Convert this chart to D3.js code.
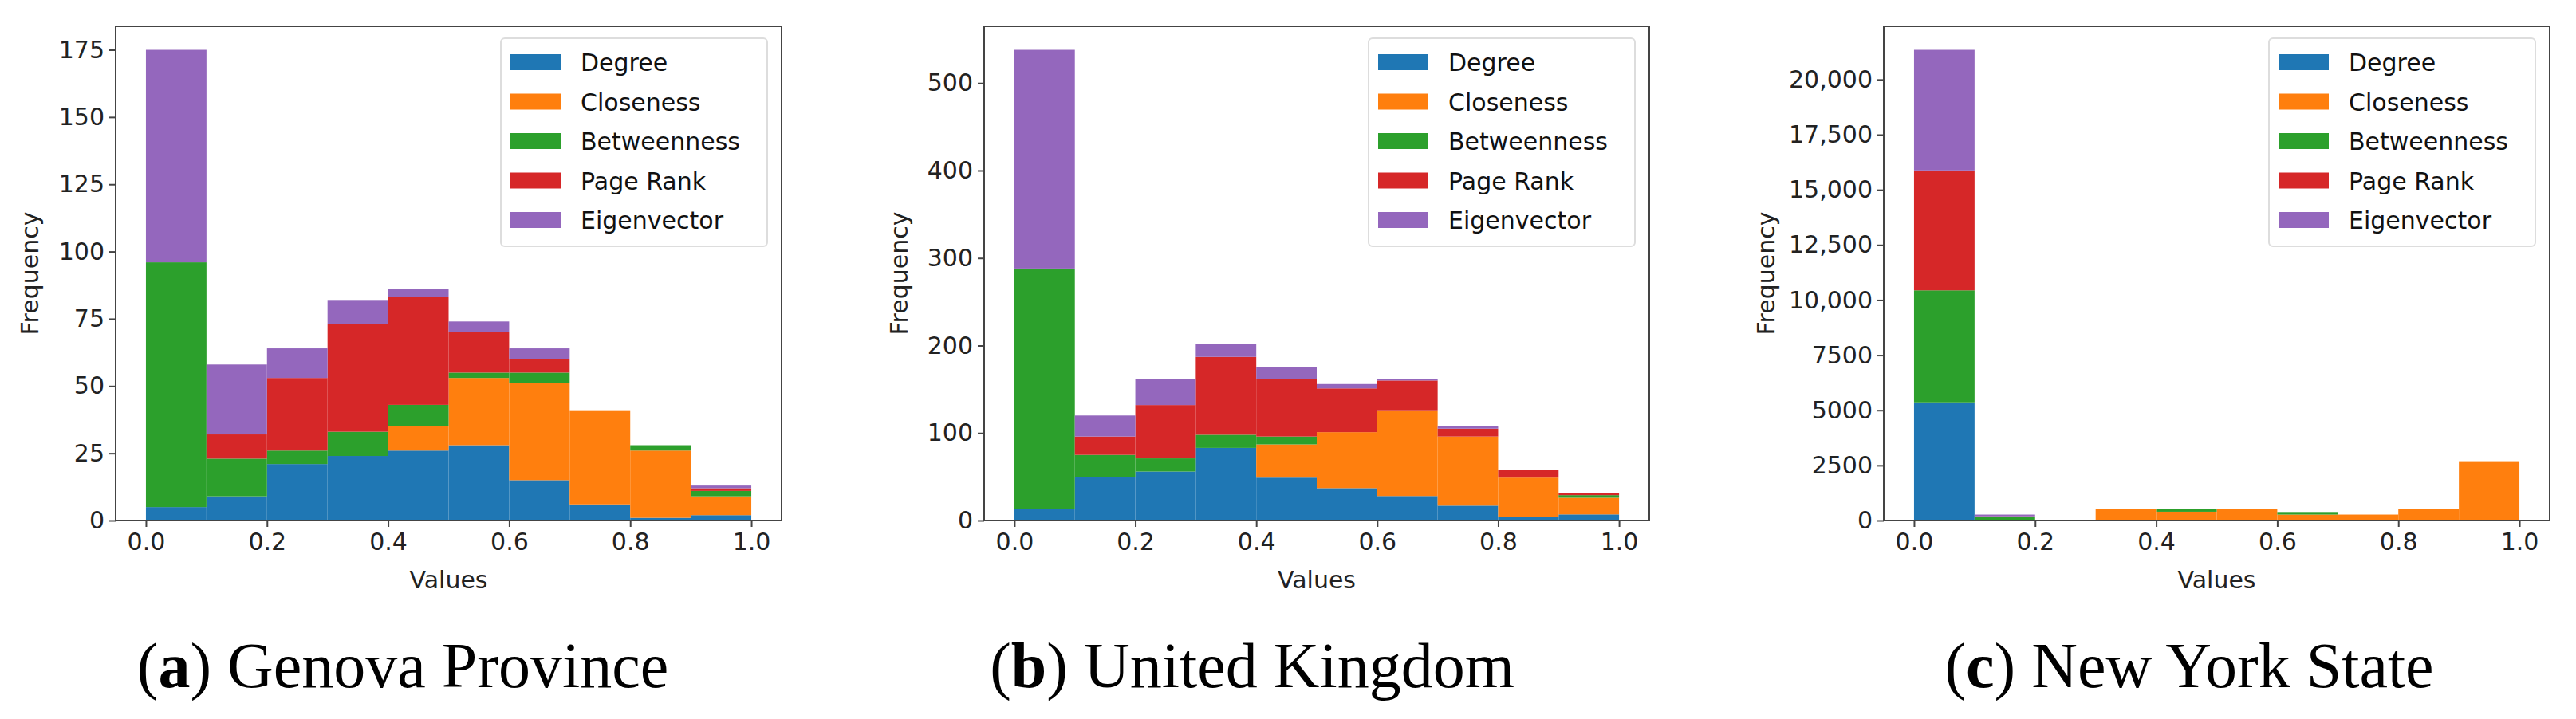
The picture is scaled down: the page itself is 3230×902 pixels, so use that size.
<!DOCTYPE html>
<html><head><meta charset="utf-8">
<script src="https://cdn.jsdelivr.net/npm/d3@7"></script>
<style>body{margin:0;background:#fff}</style></head>
<body><svg id="c" width="3230" height="902"></svg>
<script>
const bins = [0,0.1,0.2,0.3,0.4,0.5,0.6,0.7,0.8,0.9];
const seriesNames = ["Degree","Closeness","Betweenness","Page Rank","Eigenvector"];
const colors = ["#1f77b4","#ff7f0e","#2ca02c","#d62728","#9467bd"];
// Genova Province
const genDegree = [5,9,21,24,26,28,15,6,1,2];
const genCloseness = [0,0,0,0,9,25,36,35,25,7];
const genBetweenness = [91,14,5,9,8,2,4,0,2,2];
const genPageRank = [0,9,27,40,40,15,5,0,0,1];
const genEigen = [79,26,11,9,3,4,4,0,0,1];
const genTicks = [0,25,50,75,100,125,150,175];
// United Kingdom
const ukDegree = [13,50,56,83,49,37,28,17,4,7];
const ukCloseness = [0,0,0,0,38,64,98,79,45,19];
const ukBetweenness = [275,25,15,15,9,0,0,0,0,3];
const ukPageRank = [0,21,61,89,66,50,34,9,9,2];
const ukEigen = [250,24,30,15,13,5,2,3,0,0];
const ukTicks = [0,100,200,300,400,500];
// New York State
const nyDegree = [5360,30,0,0,0,0,0,0,0,0];
const nyCloseness = [0,0,0,515,400,515,270,270,515,2690];
const nyBetweenness = [5080,130,0,0,115,0,116,0,0,0];
const nyPageRank = [5440,30,0,0,0,0,0,0,0,0];
const nyEigen = [5470,80,0,0,0,0,0,0,0,0];
const nyTicks = [0,2500,5000,7500,10000,12500,15000,17500,20000];
const nyTickLabels = ["0","2500","5000","7500","10,000","12,500","15,000","17,500","20,000"];
const xTicks = [0,0.2,0.4,0.6,0.8,1.0];
const captions = [["a","Genova Province"],["b","United Kingdom"],["c","New York State"]];

const panels = [
 {left:145,right:980,ylab:38,cap:505,series:[genDegree,genCloseness,genBetweenness,genPageRank,genEigen],ticks:genTicks,labels:null},
 {left:1234,right:2068,ylab:1128,cap:1570,series:[ukDegree,ukCloseness,ukBetweenness,ukPageRank,ukEigen],ticks:ukTicks,labels:null},
 {left:2362,right:3197,ylab:2215,cap:2745,series:[nyDegree,nyCloseness,nyBetweenness,nyPageRank,nyEigen],ticks:nyTicks,labels:nyTickLabels}
];
const axTop=33,axBottom=653;
const svg=d3.select("#c");
const tf="'DejaVu Sans', sans-serif";
panels.forEach((p,pi)=>{
  const x=d3.scaleLinear().domain([-0.05,1.05]).range([p.left,p.right]);
  const totals=bins.map((b,i)=>d3.sum(p.series,s=>s[i]));
  const ymax=d3.max(totals)*1.05;
  const y=d3.scaleLinear().domain([0,ymax]).range([axBottom,axTop]);
  const g=svg.append("g");
  const rows=bins.map((b,i)=>{const o={b};seriesNames.forEach((n,k)=>o[n]=p.series[k][i]);return o;});
  const stack=d3.stack().keys(seriesNames)(rows);
  stack.forEach((layer,k)=>{
    g.selectAll(null).data(layer).enter().append("rect")
     .attr("x",d=>x(d.data.b)).attr("width",d=>x(d.data.b+0.1)-x(d.data.b))
     .attr("y",d=>y(d[1])).attr("height",d=>y(d[0])-y(d[1]))
     .attr("fill",colors[k]);
  });
  g.append("rect").attr("x",p.left).attr("y",axTop).attr("width",p.right-p.left).attr("height",axBottom-axTop)
   .attr("fill","none").attr("stroke","#444").attr("stroke-width",2);
  const ya=d3.axisLeft(y).tickValues(p.ticks).tickSize(8).tickPadding(6)
   .tickFormat((d,i)=>p.labels?p.labels[i]:d3.format("d")(d));
  const yg=g.append("g").attr("transform",`translate(${p.left},0)`).call(ya);
  const xa=d3.axisBottom(x).tickValues(xTicks).tickSize(8).tickPadding(8).tickFormat(d3.format(".1f"));
  const xg=g.append("g").attr("transform",`translate(0,${axBottom})`).call(xa);
  [yg,xg].forEach(a=>{a.select(".domain").remove();a.selectAll("line").attr("stroke","#444").attr("stroke-width",2);
    a.selectAll("text").attr("font-family",tf).attr("font-size",30).attr("fill","#222");});
  g.append("text").attr("x",(x(0)+x(1))/2).attr("y",738).attr("text-anchor","middle")
   .attr("font-family",tf).attr("font-size",30).attr("fill","#222").text("Values");
  g.append("text").attr("transform",`translate(${p.ylab+10},${(axTop+axBottom)/2}) rotate(-90)`).attr("text-anchor","middle")
   .attr("font-family",tf).attr("font-size",30).attr("fill","#222").text("Frequency");
  const lx=p.right-352, ly=48;
  g.append("rect").attr("x",lx).attr("y",ly).attr("width",334).attr("height",261).attr("rx",5)
   .attr("fill","#fff").attr("fill-opacity",0.8).attr("stroke","#ddd").attr("stroke-width",2);
  seriesNames.forEach((n,k)=>{
    const cy=ly+30+k*49.5;
    g.append("rect").attr("x",lx+12).attr("y",cy-10).attr("width",63).attr("height",20).attr("fill",colors[k]);
    g.append("text").attr("x",lx+100).attr("y",cy+11).attr("font-family",tf).attr("font-size",30).attr("fill","#111").text(n);
  });
  const c=svg.append("text").attr("x",p.cap).attr("y",862).attr("text-anchor","middle")
   .attr("font-family","'Liberation Serif', serif").attr("font-size",80).attr("fill","#000");
  c.append("tspan").text("(");
  c.append("tspan").attr("font-weight","bold").text(captions[pi][0]);
  c.append("tspan").text(") "+captions[pi][1]);
});
</script></body></html>
